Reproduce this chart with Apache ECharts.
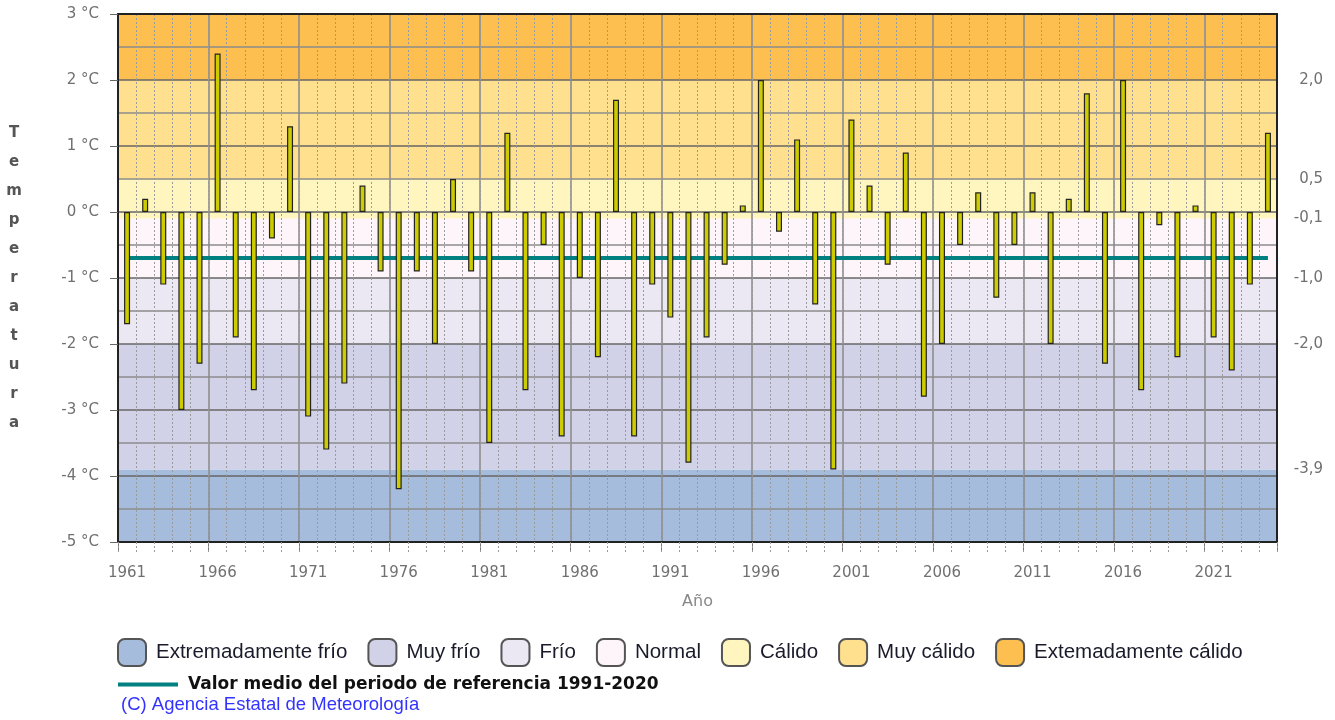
<!DOCTYPE html>
<html><head><meta charset="utf-8">
<script src="https://cdn.jsdelivr.net/npm/echarts@6/dist/echarts.min.js"></script>
<style>html,body{margin:0;padding:0;background:#fff}#c{width:1335px;height:720px}</style>
</head><body><div id="c"></div>
<script>
const years = ['1961','1962','1963','1964','1965','1966','1967','1968','1969','1970',
'1971','1972','1973','1974','1975','1976','1977','1978','1979','1980',
'1981','1982','1983','1984','1985','1986','1987','1988','1989','1990',
'1991','1992','1993','1994','1995','1996','1997','1998','1999','2000',
'2001','2002','2003','2004','2005','2006','2007','2008','2009','2010',
'2011','2012','2013','2014','2015','2016','2017','2018','2019','2020',
'2021','2022','2023','2024'];
const anomalies = [-1.7,0.2,-1.1,-3.0,-2.3,2.4,-1.9,-2.7,-0.4,1.3,
-3.1,-3.6,-2.6,0.4,-0.9,-4.2,-0.9,-2.0,0.5,-0.9,
-3.5,1.2,-2.7,-0.5,-3.4,-1.0,-2.2,1.7,-3.4,-1.1,
-1.6,-3.8,-1.9,-0.8,0.1,2.0,-0.3,1.1,-1.4,-3.9,
1.4,0.4,-0.8,0.9,-2.8,-2.0,-0.5,0.3,-1.3,-0.5,
0.3,-2.0,0.2,1.8,-2.3,2.0,-2.7,-0.2,-2.2,0.1,
-1.9,-2.4,-1.1,1.2];
const thresholds = [-5, -3.9, -2.0, -1.0, -0.1, 0.5, 2.0, 3];
const rightLabels = [-3.9, -2.0, -1.0, -0.1, 0.5, 2.0];
const bandNames = ['Extremadamente frío','Muy frío','Frío','Normal','Cálido','Muy cálido','Extemadamente cálido'];
const bandColors = ['#A6BCDC','#D1D2E8','#EBE7F3','#FDF5FA','#FFF5BE','#FEE08E','#FDC050'];
const refMean = -0.7;
const refName = 'Valor medio del periodo de referencia 1991-2020';
const yTitle = 'Temperatura';
const xTitle = 'Año';
const credit = '(C) Agencia Estatal de Meteorología';

const axFont = 'DejaVu Sans';
const bands = [];
for (let i = 0; i < bandNames.length; i++) bands.push([0, thresholds[i], thresholds[i + 1]]);

const chart = echarts.init(document.getElementById('c'));
const series = [
  {
    type: 'custom', xAxisIndex: 1, yAxisIndex: 0, z: 0, silent: true,
    dimensions: ['x', 'lo', 'hi'], encode: { x: 'x', y: ['lo', 'hi'] },
    data: bands,
    renderItem: function (params, api) {
      const cs = params.coordSys;
      const yTop = api.coord([0, api.value(2)])[1];
      const yBot = api.coord([0, api.value(1)])[1];
      return { type: 'rect', shape: { x: cs.x, y: yTop, width: cs.width, height: yBot - yTop },
               style: { fill: bandColors[params.dataIndex] } };
    }
  }
];
bandNames.forEach(function (n, i) {
  series.push({ type: 'bar', name: n, data: [], xAxisIndex: 1, yAxisIndex: 0, itemStyle: { color: bandColors[i] } });
});
series.push({
  type: 'bar', name: 'Anomalía', data: anomalies, xAxisIndex: 0, yAxisIndex: 0, z: 3,
  barWidth: 6, itemStyle: { color: '#CCCC00', borderColor: '#222', borderWidth: 1.2 }
});
series.push({
  type: 'line', name: refName, data: [], xAxisIndex: 0, yAxisIndex: 0, color: '#008080',
  markLine: {
    z: 2, symbol: 'none', silent: true, label: { show: false },
    lineStyle: { color: '#008080', width: 4, type: 'solid' },
    data: [[{ coord: [years[0], refMean] }, { coord: [years[years.length - 1], refMean] }]]
  }
});

chart.setOption({
  animation: false,
  grid: { left: 118, right: 58, top: 14, bottom: 178, containLabel: false },
  xAxis: [
    {
      type: 'category', data: years, position: 'bottom', boundaryGap: true, z: 1,
      axisLine: { onZero: false, lineStyle: { color: '#222', width: 2 } },
      axisTick: { show: true, interval: 4, length: 10, lineStyle: { color: '#777' } },
      axisLabel: { interval: 4, margin: 24, color: '#707070', fontSize: 15, fontFamily: axFont },
      splitLine: { show: true, interval: 4, lineStyle: { color: '#888', width: 1.5 } },
      name: xTitle, nameLocation: 'middle', nameGap: 52,
      nameTextStyle: { color: '#888', fontSize: 16, fontFamily: axFont }
    },
    {
      type: 'category', data: years, position: 'top', boundaryGap: true, z: 1,
      axisLine: { onZero: false, lineStyle: { color: '#222', width: 2 } },
      axisTick: { show: false }, axisLabel: { show: false },
      splitLine: { show: true, interval: 0, lineStyle: { color: '#9a9a9a', width: 1, type: [2, 2] } }
    },
    {
      type: 'category', data: years, position: 'bottom', boundaryGap: true, z: 1,
      axisLine: { show: false, onZero: false },
      axisTick: { show: true, interval: 0, length: 10, lineStyle: { color: '#999', type: [2, 2] } },
      axisLabel: { show: false }, splitLine: { show: false }
    }
  ],
  yAxis: [
    {
      type: 'value', min: -5, max: 3, interval: 1, position: 'left', z: 1,
      axisLine: { show: true, onZero: false, lineStyle: { color: '#222', width: 2 } },
      axisTick: { show: true, length: 8, lineStyle: { color: '#666' } },
      axisLabel: { margin: 19, color: '#707070', fontSize: 15, fontFamily: axFont,
                   formatter: function (v) { return v + ' °C'; } },
      splitLine: { show: true, lineStyle: { color: '#666', width: 1.5 } },
      minorTick: { show: false, splitNumber: 2 },
      minorSplitLine: { show: true, lineStyle: { color: '#8c8c8c', width: 1.5 } },
      name: yTitle.split('').join('\n'), nameLocation: 'middle', nameGap: 104, nameRotate: 0,
      nameTextStyle: { fontWeight: 'bold', fontSize: 15, lineHeight: 29, color: '#555',
                       fontFamily: axFont, align: 'center', verticalAlign: 'middle' }
    },
    {
      type: 'value', min: -5, max: 3, interval: 0.1, position: 'right', z: 1,
      axisLine: { show: true, onZero: false, lineStyle: { color: '#222', width: 2 } },
      axisTick: { show: false }, splitLine: { show: false },
      axisLabel: { margin: 46, align: 'right', color: '#707070', fontSize: 15, fontFamily: axFont,
        formatter: function (v) {
          const r = Math.round(v * 10) / 10;
          return rightLabels.indexOf(r) >= 0 ? r.toFixed(1).replace('.', ',') : '';
        } }
    }
  ],
  legend: [
    {
      left: 112, top: 633, itemWidth: 28, itemHeight: 27, itemGap: 20, icon: 'roundRect',
      selectedMode: false, data: bandNames,
      itemStyle: { borderColor: '#555', borderWidth: 2 },
      textStyle: { fontFamily: 'Liberation Sans', fontSize: 20.5, color: '#1a1a2a', padding: [0, 0, 0, 5] }
    },
    {
      left: 113, top: 671, itemWidth: 60, itemHeight: 4, icon: 'rect', selectedMode: false,
      data: [refName],
      textStyle: { fontFamily: axFont, fontWeight: 'bold', fontSize: 17, color: '#111', padding: [0, 0, 0, 5] }
    }
  ],
  graphic: [
    { type: 'text', left: 121, top: 695,
      style: { text: credit, fill: '#3333ff', font: '18.5px "Liberation Sans"' } }
  ],
  series: series
});
</script></body></html>
